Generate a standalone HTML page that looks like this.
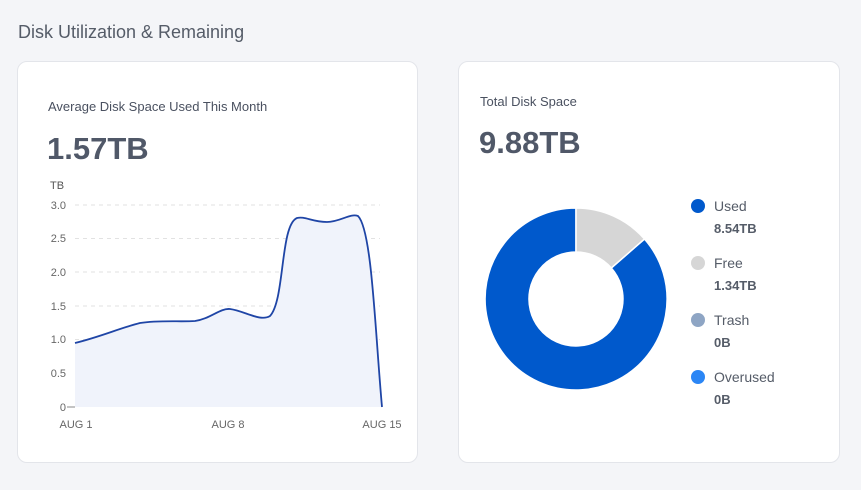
<!DOCTYPE html>
<html><head><style>
body{margin:0;width:861px;height:490px;background:#f4f5f8;font-family:"Liberation Sans",sans-serif;position:relative;overflow:hidden}
.card{position:absolute;background:#fff;border:1px solid #e3e5ea;border-radius:10px}
.t{position:absolute;color:#4a5160}
</style></head><body>
<div class="t" style="left:18px;top:22px;font-size:18px;color:#555c68">Disk Utilization &amp; Remaining</div>
<div class="card" style="left:17px;top:61px;width:399px;height:400px"></div>
<div class="card" style="left:458px;top:61px;width:380px;height:400px"></div>
<div class="t" style="left:48px;top:99px;font-size:13px">Average Disk Space Used This Month</div>
<div class="t" style="left:47px;top:131px;font-size:31px;font-weight:bold;color:#505868">1.57TB</div>
<div class="t" style="left:480px;top:94px;font-size:13px">Total Disk Space</div>
<div class="t" style="left:479px;top:125px;font-size:31px;font-weight:bold;color:#505868">9.88TB</div>
<svg width="861" height="490" style="position:absolute;left:0;top:0" font-family="Liberation Sans,sans-serif">
<text x="50" y="189" font-size="11" fill="#555">TB</text>
<g stroke="#e2e2e2" stroke-dasharray="4,4">
<line x1="75" y1="205" x2="380" y2="205"/><line x1="75" y1="238.5" x2="380" y2="238.5"/><line x1="75" y1="272" x2="380" y2="272"/><line x1="75" y1="306" x2="380" y2="306"/><line x1="75" y1="339.5" x2="380" y2="339.5"/><line x1="75" y1="373" x2="380" y2="373"/></g>
<line x1="67" y1="407" x2="75" y2="407" stroke="#888"/>
<g font-size="11" fill="#666" text-anchor="end">
<text x="66" y="209">3.0</text><text x="66" y="242">2.5</text><text x="66" y="276">2.0</text><text x="66" y="310">1.5</text><text x="66" y="343">1.0</text><text x="66" y="377">0.5</text><text x="66" y="411">0</text></g>
<g font-size="11" fill="#666" text-anchor="middle"><text x="76" y="428">AUG 1</text><text x="228" y="428">AUG 8</text><text x="382" y="428">AUG 15</text></g>
<path d="M75,343 C100,337 120,328 140,323 C160,320 180,322 195,321 C210,319 220,308 230,309 C245,311 260,322 270,316 C285,300 280,225 297,218 C305,216 312,222 327,222 C340,222 350,213 358,216 C372,230 375,330 382,407 L75,407 Z" fill="#f0f3fb" stroke="none"/>
<path d="M75,343 C100,337 120,328 140,323 C160,320 180,322 195,321 C210,319 220,308 230,309 C245,311 260,322 270,316 C285,300 280,225 297,218 C305,216 312,222 327,222 C340,222 350,213 358,216 C372,230 375,330 382,407" fill="none" stroke="#1f45a6" stroke-width="1.8"/>
<path d="M644.5,239 A91,91 0 1 1 576,208 L576,252 A47,47 0 1 0 611.3,268 Z" fill="#0059cc" stroke="#fff" stroke-width="1.5"/>
<path d="M576,208 A91,91 0 0 1 644.5,239 L611.3,268 A47,47 0 0 0 576,252Z" fill="#d6d6d6" stroke="#fff" stroke-width="1.5"/>
<circle cx="698" cy="206" r="7" fill="#0059cc"/><circle cx="698" cy="263" r="7" fill="#d6d6d6"/><circle cx="698" cy="320" r="7" fill="#8ea5c4"/><circle cx="698" cy="377" r="7" fill="#2b86f5"/>
<g font-size="14" fill="#555c68"><text x="714" y="211">Used</text><text x="714" y="268">Free</text><text x="714" y="325">Trash</text><text x="714" y="382">Overused</text></g>
<g font-size="13" font-weight="bold" fill="#555c68"><text x="714" y="233">8.54TB</text><text x="714" y="290">1.34TB</text><text x="714" y="347">0B</text><text x="714" y="404">0B</text></g>
</svg>
</body></html>
